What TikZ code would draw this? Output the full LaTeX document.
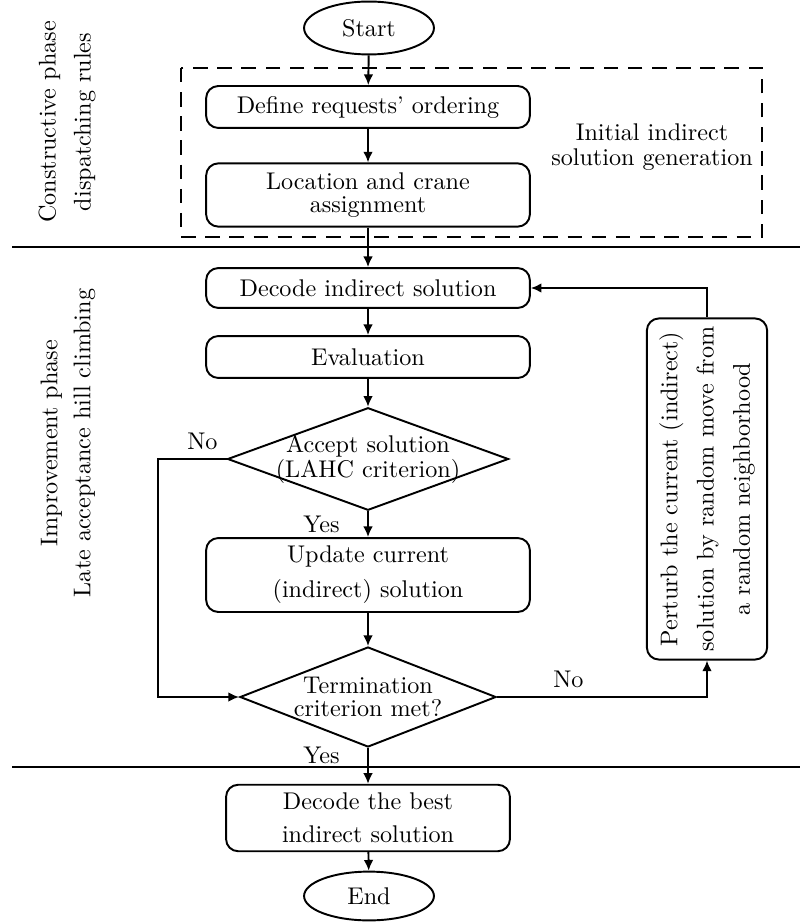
\documentclass[tikz,border=0pt]{standalone}
\usetikzlibrary{arrows.meta,shapes.geometric}
\tikzset{
  terminal/.style={draw=black,thick,ellipse,minimum width=18.9mm,inner sep=1pt},
  process/.style={draw=black,thick,rounded corners=5pt,align=center,minimum width=47.1mm,minimum height=6.1mm},
  decision/.style={draw=black,thick,diamond,align=center},
  phase/.style={rotate=90,align=center},
  arrow/.style={-{Latex[length=4.4pt,width=4pt]},thick,draw=black},
  sep/.style={thick,draw=black}
}
\begin{document}
\begin{tikzpicture}[x=0.414pt,y=-0.414pt]
  \useasboundingbox (0,0) rectangle (800,922);

  % constructive phase
  \node (start) [terminal,minimum height=7.7mm] at (369,28) {Start};
  \draw[thick,dash pattern=on 6pt off 4pt] (181,68) rectangle (762,237);
  \node (define) [process] at (368,107) {Define requests' ordering};
  \node (loc) [process,minimum height=9.2mm] at (368,195) {Location and crane\\[-2.4pt]assignment};
  \node (initial) [align=center] at (652,147) {Initial indirect\\[-1.6pt]solution generation};
  \node (constr) [phase] at (67,122) {Constructive phase\\[2.5pt]dispatching rules};

  % improvement phase
  \node (decode) [process,minimum height=5.8mm] at (368,288) {Decode indirect solution};
  \node (eval) [process] at (368,357) {Evaluation};
  \node (accept) [decision,aspect=2.74,inner sep=-2pt] at (368,459) {Accept solution\\[-1.6pt](LAHC criterion)};
  \node (update) [process,minimum height=9.2mm] at (368,575) {Update current\\[2.5pt](indirect) solution};
  \node (term) [decision,aspect=2.56,inner sep=0.3pt] at (368,697) {Termination\\[-2.3pt]criterion met?};
  \node (perturb) [process,rotate=90,minimum width=49.2mm,minimum height=17.5mm] at (707,489) {Perturb the current (indirect)\\[3pt]solution by random move from\\[3pt]a random neighborhood};
  \node (improv) [phase] at (68,443) {Improvement phase\\[1.7pt]Late acceptance hill climbing};

  % final phase
  \node (best) [process,minimum width=41.3mm,minimum height=9mm] at (368,818) {Decode the best\\[1.8pt]indirect solution};
  \node (end) [terminal,minimum height=7.1mm] at (369,896) {End};

  % phase separators
  \coordinate (sepA-l) at (12,247);
  \coordinate (sepA-r) at (800,247);
  \coordinate (sepB-l) at (12,767);
  \coordinate (sepB-r) at (800,767);
  \draw[sep] (sepA-l) -- (sepA-r);
  \draw[sep] (sepB-l) -- (sepB-r);

  \draw[arrow] (start) -- (define);
  \draw[arrow] (define) -- (loc);
  \draw[arrow] (loc) -- (decode);
  \draw[arrow] (decode) -- (eval);
  \draw[arrow] (eval) -- (accept);
  \draw[arrow] (accept) -- node[midway,left=8pt]{Yes} (update);
  \draw[arrow] (update) -- (term);
  \draw[arrow] (accept.west) node[above left]{No} -- ++(-69,0) |- (term.west);
  \draw[arrow] (term.east) -| node[pos=0.17,above]{No} (perturb.west);
  \draw[arrow] (perturb.east) |- (decode.east);
  \draw[arrow] (term) -- node[pos=0.2,left=8pt]{Yes} (best);
  \draw[arrow] (best) -- (end);
\end{tikzpicture}
\end{document}
